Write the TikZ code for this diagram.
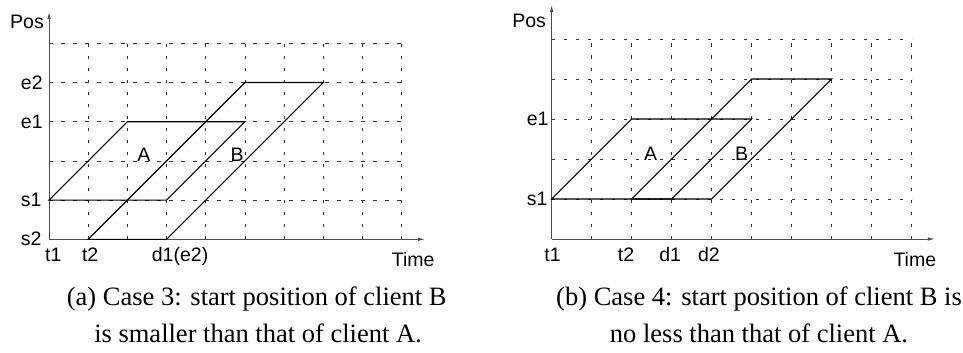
\documentclass[tikz,border=0pt]{standalone}
\usepackage{fontspec}
\setmainfont{Liberation Serif}
\newfontfamily\labfont{Liberation Sans}
\usetikzlibrary{arrows.meta}
\begin{document}
\begin{tikzpicture}[
  lab/.style={font=\labfont\fontsize{19.5}{22}\selectfont, inner sep=0pt},
  capt/.style={font=\fontsize{26.5}{37}\selectfont, inner sep=0pt, anchor=base},
  gridline/.style={draw=black!80, line width=0.75pt, dash pattern=on 3.5pt off 8.5pt},
  traj/.style={draw=black, line width=1.1pt, line join=miter},
  axis/.style={draw=black!70, line width=0.9pt, -{Latex[length=7pt,width=3.5pt]}}
]
\useasboundingbox (0pt,0pt) rectangle (963pt,-353pt);

% ---------------- left panel ----------------
\begin{scope}[shift={(49pt,-239.3pt)}, x=39.2pt, y=39.2pt]
  \foreach \i in {1,...,5} \draw[gridline] (0,\i) -- (9,\i);
  \foreach \i in {1,...,9} \draw[gridline] (\i,0) -- (\i,5);
  \coordinate (lO) at (0,0);
  \coordinate (lY) at (0,5.8);
  \coordinate (lX) at (9.59,0);
  \draw[axis] (lO) -- (lY);
  \draw[axis] (lO) -- (lX);
  % A
  \coordinate (lA1) at (0,1); \coordinate (lA2) at (2,3);
  \coordinate (lA3) at (5,3); \coordinate (lA4) at (3,1);
  \draw[traj] (lA1) -- (lA2) -- (lA3) -- (lA4) -- cycle;
  % B
  \coordinate (lB1) at (1,0); \coordinate (lB2) at (5,4);
  \coordinate (lB3) at (7,4); \coordinate (lB4) at (3,0);
  \draw[traj] (lB1) -- (lB2) -- (lB3) -- (lB4) -- cycle;
  % labels
  \node[lab, anchor=base west] (lpos) at (-0.995,5.39) {Pos};
  \node[lab, anchor=base west] (le2) at (-0.72,3.83) {e2};
  \node[lab, anchor=base west] (le1) at (-0.72,2.83) {e1};
  \node[lab, anchor=base west] (ls1) at (-0.72,0.83) {s1};
  \node[lab, anchor=base west] (ls2) at (-0.72,-0.15) {s2};
  \node[lab, anchor=base] (lt1) at (0.11,-0.57) {t1};
  \node[lab, anchor=base] (lt2) at (1.05,-0.57) {t2};
  \node[lab, anchor=base west] (ld1) at (2.62,-0.57) {d1(e2)};
  \node[lab, anchor=base west] (ltime) at (8.74,-0.70) {Time};
  \node[lab] (lAl) at (2.42,2.15) {A};
  \node[lab] (lBl) at (4.8,2.15) {B};
\end{scope}

% ---------------- right panel ----------------
\begin{scope}[shift={(551.7pt,-239pt)}, x=40pt, y=40pt]
  \foreach \i in {1,...,5} \draw[gridline] (0,\i) -- (9,\i);
  \foreach \i in {1,...,9} \draw[gridline] (\i,0) -- (\i,5);
  \coordinate (rO) at (0,0);
  \coordinate (rY) at (0,5.85);
  \coordinate (rX) at (9.58,0);
  \draw[axis] (rO) -- (rY);
  \draw[axis] (rO) -- (rX);
  % A
  \coordinate (rA1) at (0,1); \coordinate (rA2) at (2,3);
  \coordinate (rA3) at (5,3); \coordinate (rA4) at (3,1);
  \draw[traj] (rA1) -- (rA2) -- (rA3) -- (rA4) -- cycle;
  % B
  \coordinate (rB1) at (2,1); \coordinate (rB2) at (5,4);
  \coordinate (rB3) at (7,4); \coordinate (rB4) at (4,1);
  \draw[traj] (rB1) -- (rB2) -- (rB3) -- (rB4) -- cycle;
  % labels
  \node[lab, anchor=base west] (rpos) at (-0.99,5.28) {Pos};
  \node[lab, anchor=base west] (re1) at (-0.625,2.85) {e1};
  \node[lab, anchor=base west] (rs1) at (-0.625,0.85) {s1};
  \node[lab, anchor=base] (rt1) at (0.02,-0.57) {t1};
  \node[lab, anchor=base] (rt2) at (1.86,-0.57) {t2};
  \node[lab, anchor=base] (rd1) at (2.96,-0.57) {d1};
  \node[lab, anchor=base] (rd2) at (3.93,-0.57) {d2};
  \node[lab, anchor=base west] (rtime) at (8.54,-0.69) {Time};
  \node[lab] (rAl) at (2.47,2.125) {A};
  \node[lab] (rBl) at (4.75,2.125) {B};
\end{scope}

% ---------------- captions ----------------
\node[capt] (capa1) at (256.7pt,-305pt) {(a) Case 3: start position of client B};
\node[capt] (capa2) at (258pt,-342pt) {is smaller than that of client A.};
\node[capt] (capb1) at (759pt,-305pt) {(b) Case 4: start position of client B is};
\node[capt] (capb2) at (759pt,-342pt) {no less than that of client A.};
\end{tikzpicture}
\end{document}
